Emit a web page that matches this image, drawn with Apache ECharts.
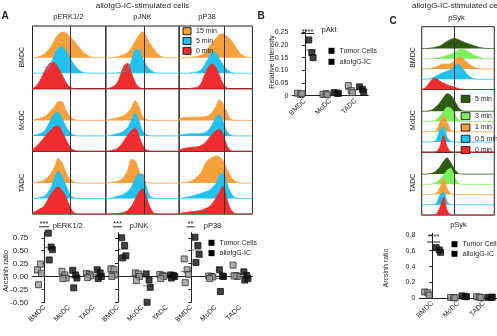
<!DOCTYPE html>
<html>
<head>
<meta charset="utf-8">
<script src="https://cdn.jsdelivr.net/npm/echarts@6/dist/echarts.min.js"></script>
<style>
  html, body { margin: 0; padding: 0; background: #fff; }
  #chart { width: 497px; height: 336px; }
</style>
</head>
<body>
<div id="chart"></div>
<script>
// labels
var cellTypes = ['BMDC', 'MoDC', 'TADC'];
var markersA = ['pERK1/2', 'pJNK', 'pP38'];
var timesA = ['15 min', '5 min', '0 min'];
var timesC = ['5 min', '3 min', '1 min', '0.5 min', '0 min'];
// fluorescence bins (relative channel)
var bins = [0, 5, 10, 15, 20, 25, 30, 35, 40, 45, 50, 55, 60, 65, 70, 75, 80, 85, 90, 95, 100];
// gate line per marker (bin units)
var gateA = [52, 52, 61];
var gateC = 45;

// histograms, normalized to mode: [15 min, 5 min, 0 min]
var histBmdcErk = [
  [0, 0, 0.05, 0.12, 0.25, 0.42, 0.68, 0.88, 0.98, 0.97, 0.82, 0.7, 0.52, 0.35, 0.2, 0.09, 0.02, 0, 0, 0, 0],
  [0, 0, 0, 0.02, 0.15, 0.35, 0.72, 0.95, 1.02, 0.88, 0.65, 0.4, 0.22, 0.08, 0.02, 0, 0, 0, 0, 0, 0],
  [0, 0.1, 0.3, 0.58, 0.85, 1.0, 1.0, 0.8, 0.55, 0.28, 0.08, 0.01, 0, 0, 0, 0, 0, 0, 0, 0, 0]
];
var histBmdcJnk = [
  [0, 0, 0.01, 0.03, 0.07, 0.12, 0.2, 0.38, 0.62, 0.85, 1.0, 0.82, 0.55, 0.35, 0.18, 0.05, 0.01, 0, 0, 0, 0],
  [0, 0, 0, 0.01, 0.03, 0.06, 0.18, 0.48, 0.88, 0.9, 0.58, 0.32, 0.15, 0.04, 0.01, 0, 0, 0, 0, 0, 0],
  [0, 0.02, 0.08, 0.2, 0.52, 0.88, 0.98, 0.6, 0.25, 0.06, 0.01, 0, 0, 0, 0, 0, 0, 0, 0, 0, 0]
];
var histBmdcP38 = [
  [0, 0, 0, 0.01, 0.03, 0.05, 0.09, 0.18, 0.38, 0.58, 0.72, 0.88, 0.92, 0.82, 0.7, 0.5, 0.3, 0.12, 0.04, 0.01, 0],
  [0, 0, 0, 0.01, 0.03, 0.06, 0.13, 0.32, 0.58, 0.82, 0.78, 0.55, 0.32, 0.15, 0.05, 0.01, 0, 0, 0, 0, 0],
  [0, 0, 0, 0.01, 0.03, 0.06, 0.2, 0.55, 0.82, 0.95, 0.82, 0.52, 0.18, 0.03, 0, 0, 0, 0, 0, 0, 0]
];
var histModcErk = [
  [0.01, 0.04, 0.08, 0.12, 0.22, 0.37, 0.52, 0.72, 0.72, 0.42, 0.2, 0.06, 0.01, 0, 0, 0, 0, 0, 0, 0, 0],
  [0.01, 0.04, 0.08, 0.15, 0.35, 0.62, 0.85, 0.92, 0.68, 0.4, 0.18, 0.04, 0.01, 0, 0, 0, 0, 0, 0, 0, 0],
  [0.08, 0.18, 0.33, 0.5, 0.68, 0.82, 0.95, 0.98, 0.78, 0.5, 0.22, 0.06, 0.01, 0, 0, 0, 0, 0, 0, 0, 0]
];
var histModcJnk = [
  [0.01, 0.03, 0.06, 0.09, 0.13, 0.19, 0.3, 0.5, 0.76, 0.55, 0.15, 0.03, 0, 0, 0, 0, 0, 0, 0, 0, 0],
  [0, 0.01, 0.04, 0.08, 0.12, 0.2, 0.32, 0.6, 0.88, 0.6, 0.2, 0.04, 0.01, 0, 0, 0, 0, 0, 0, 0, 0],
  [0, 0.02, 0.05, 0.1, 0.22, 0.42, 0.62, 0.8, 0.9, 0.6, 0.25, 0.06, 0.01, 0, 0, 0, 0, 0, 0, 0, 0]
];
var histModcP38 = [
  [0.06, 0.1, 0.12, 0.12, 0.12, 0.12, 0.13, 0.14, 0.18, 0.3, 0.52, 0.78, 0.65, 0.32, 0.05, 0.01, 0, 0, 0, 0, 0],
  [0.02, 0.05, 0.07, 0.08, 0.08, 0.08, 0.09, 0.12, 0.22, 0.42, 0.7, 0.82, 0.55, 0.18, 0.03, 0, 0, 0, 0, 0, 0],
  [0.05, 0.1, 0.13, 0.15, 0.16, 0.18, 0.22, 0.32, 0.48, 0.65, 0.78, 0.85, 0.65, 0.25, 0.04, 0, 0, 0, 0, 0, 0]
];
var histTadcErk = [
  [0, 0.02, 0.05, 0.09, 0.2, 0.36, 0.6, 0.95, 0.8, 0.45, 0.18, 0.06, 0.01, 0, 0, 0, 0, 0, 0, 0, 0],
  [0, 0.01, 0.04, 0.08, 0.2, 0.42, 0.78, 1.05, 0.85, 0.55, 0.22, 0.05, 0.01, 0, 0, 0, 0, 0, 0, 0, 0],
  [0.05, 0.12, 0.2, 0.28, 0.5, 0.76, 0.95, 1.05, 0.92, 0.7, 0.35, 0.1, 0.01, 0, 0, 0, 0, 0, 0, 0, 0]
];
var histTadcJnk = [
  [0, 0.01, 0.03, 0.06, 0.12, 0.25, 0.5, 0.92, 0.85, 0.5, 0.12, 0.03, 0, 0, 0, 0, 0, 0, 0, 0, 0],
  [0, 0.01, 0.04, 0.08, 0.12, 0.18, 0.27, 0.45, 0.75, 0.95, 0.95, 0.48, 0.1, 0.02, 0, 0, 0, 0, 0, 0, 0],
  [0, 0, 0.01, 0.02, 0.04, 0.07, 0.14, 0.3, 0.56, 0.82, 0.98, 0.7, 0.28, 0.05, 0.01, 0, 0, 0, 0, 0, 0]
];
var histTadcP38 = [
  [0, 0.01, 0.03, 0.06, 0.13, 0.25, 0.4, 0.7, 0.9, 0.98, 1.04, 1.0, 0.86, 0.55, 0.28, 0.1, 0.03, 0, 0, 0, 0],
  [0, 0.02, 0.05, 0.08, 0.12, 0.16, 0.2, 0.25, 0.3, 0.42, 0.56, 0.88, 1.0, 0.6, 0.25, 0.06, 0.01, 0, 0, 0, 0],
  [0.02, 0.05, 0.07, 0.09, 0.1, 0.12, 0.15, 0.2, 0.26, 0.4, 0.6, 0.85, 1.08, 0.6, 0.2, 0.04, 0, 0, 0, 0, 0]
];
// pSyk: [5 min, 3 min, 1 min, 0.5 min, 0 min]
var histBmdcSyk = [
  [0, 0, 0.01, 0.04, 0.09, 0.15, 0.3, 0.45, 0.57, 0.62, 0.56, 0.46, 0.36, 0.28, 0.2, 0.13, 0.07, 0.02, 0, 0, 0],
  [0, 0, 0, 0.02, 0.05, 0.08, 0.13, 0.2, 0.27, 0.38, 0.5, 0.62, 0.52, 0.4, 0.28, 0.17, 0.08, 0.02, 0, 0, 0],
  [0, 0, 0.02, 0.06, 0.14, 0.24, 0.31, 0.3, 0.34, 0.52, 0.7, 0.72, 0.5, 0.32, 0.17, 0.06, 0.01, 0, 0, 0, 0],
  [0, 0, 0.02, 0.08, 0.2, 0.32, 0.42, 0.5, 0.6, 0.78, 0.92, 0.72, 0.45, 0.2, 0.06, 0.01, 0, 0, 0, 0, 0],
  [0.02, 0.1, 0.38, 0.65, 0.68, 0.52, 0.4, 0.3, 0.22, 0.14, 0.07, 0.02, 0, 0, 0, 0, 0, 0, 0, 0, 0]
];
var histModcSyk = [
  [0, 0, 0.03, 0.1, 0.3, 0.54, 0.85, 1.1, 1.0, 0.68, 0.27, 0.05, 0, 0, 0, 0, 0, 0, 0, 0, 0],
  [0, 0, 0.01, 0.04, 0.12, 0.35, 0.62, 0.9, 0.85, 0.5, 0.15, 0.02, 0, 0, 0, 0, 0, 0, 0, 0, 0],
  [0, 0, 0, 0.02, 0.07, 0.58, 1.0, 0.6, 0.12, 0.02, 0, 0, 0, 0, 0, 0, 0, 0, 0, 0, 0],
  [0, 0, 0, 0.02, 0.12, 0.72, 0.95, 0.3, 0.05, 0, 0, 0, 0, 0, 0, 0, 0, 0, 0, 0, 0],
  [0, 0, 0, 0, 0.03, 0.35, 1.04, 0.35, 0.04, 0, 0, 0, 0, 0, 0, 0, 0, 0, 0, 0, 0]
];
var histTadcSyk = [
  [0, 0, 0.02, 0.07, 0.2, 0.45, 0.78, 1.02, 0.7, 0.3, 0.06, 0, 0, 0, 0, 0, 0, 0, 0, 0, 0],
  [0, 0, 0, 0.04, 0.12, 0.3, 0.56, 0.88, 1.0, 0.5, 0.08, 0.01, 0, 0, 0, 0, 0, 0, 0, 0, 0],
  [0, 0, 0, 0.02, 0.08, 0.4, 1.0, 0.38, 0.05, 0, 0, 0, 0, 0, 0, 0, 0, 0, 0, 0, 0],
  [0, 0, 0, 0.02, 0.1, 0.6, 0.78, 0.2, 0.02, 0, 0, 0, 0, 0, 0, 0, 0, 0, 0, 0, 0],
  [0, 0, 0, 0.01, 0.06, 0.45, 1.1, 0.3, 0.02, 0, 0, 0, 0, 0, 0, 0, 0, 0, 0, 0, 0]
];

// scatter values per cell type (BMDC, MoDC, TADC)
var erkTumor = [[0.13, 0.24, 0.06, -0.16], [0.10, 0.03, -0.03, -0.04], [0.06, 0.04, 0.01, -0.02]];
var erkAllo = [[0.84, 0.57, 0.52, 0.32], [0.12, 0.03, -0.03, -0.22], [0.13, 0.07, 0.0, -0.04]];
var jnkTumor = [[0.15, 0.14, 0.03, 0.0], [0.07, 0.05, 0.0, -0.08], [0.04, 0.02, 0.0, -0.04]];
var jnkAllo = [[0.75, 0.60, 0.40, 0.36], [0.05, -0.07, -0.21, -0.5], [0.03, 0.02, 0.0, -0.03]];
var p38Tumor = [[0.34, 0.13, 0.04, -0.12], [0.01, 0.0, -0.01, -0.04], [0.22, 0.02, 0.0, 0.01]];
var p38Allo = [[0.76, 0.60, 0.43, 0.27], [0.13, 0.01, 0.0, -0.29], [0.09, 0.02, -0.04, -0.07]];
var aktTumor = [[0.010, 0.005, 0.008], [0.005, 0.008, 0.004], [0.040, 0.020, 0.012]];
var aktAllo = [[0.22, 0.17, 0.15], [0.012, 0.010, 0.009], [0.035, 0.025, 0.015]];
var sykTumor = [[0.08, 0.07, 0.04], [0.012, 0.010, 0.006], [0.02, 0.015, 0.01]];
var sykAllo = [[0.64, 0.61, 0.58], [0.03, 0.025, 0.02], [0.012, 0.01, 0.015]];
// horizontal spread of replicate points (category units)
var spread = [-0.07, 0.05, 0.1, -0.03];

var colorsA = ['#f7a03c', '#22c1ef', '#ee2d2f'];
var colorsC = ['#2f5a12', '#7cf05a', '#f7a03c', '#22c1ef', '#ee2d2f'];
var font = '"Liberation Sans", Arial, sans-serif';

var grids = [], xAxes = [], yAxes = [], series = [];

function addGrid(g) {
  grids.push(g);
  return grids.length - 1;
}

function histCell(box, curves, colors, names, unit, offsets, gate) {
  var gi = addGrid({left: box.left, top: box.top, width: box.width, height: box.height,
    show: true, borderColor: '#222', borderWidth: 1, backgroundColor: 'transparent', z: 3});
  xAxes.push({gridIndex: gi, type: 'value', min: 0, max: 100, show: false});
  yAxes.push({gridIndex: gi, type: 'value', min: 0, max: 1, show: false});
  series.push({type: 'line', data: [], xAxisIndex: xAxes.length - 1, yAxisIndex: yAxes.length - 1, z: 10, silent: true,
    markLine: {symbol: 'none', silent: true, label: {show: false}, animation: false,
      lineStyle: {color: '#333', width: 1, type: 'solid'}, data: [{xAxis: gate}]}});
  curves.forEach(function (vals, k) {
    var base = box.top + box.height - offsets[k];
    var ci = addGrid({left: box.left, top: base - unit, width: box.width, height: unit});
    xAxes.push({gridIndex: ci, type: 'category', data: bins, boundaryGap: false, show: false});
    yAxes.push({gridIndex: ci, type: 'value', min: 0, max: 1, show: false});
    series.push({type: 'line', name: names[k], data: vals, xAxisIndex: xAxes.length - 1, yAxisIndex: yAxes.length - 1,
      symbol: 'none', smooth: 0.3, clip: false, silent: true,
      lineStyle: {color: colors[k], width: 0.8}, itemStyle: {color: colors[k]},
      areaStyle: {color: colors[k], opacity: 1}});
  });
}

// panel A histograms
var histA = [[histBmdcErk, histBmdcJnk, histBmdcP38], [histModcErk, histModcJnk, histModcP38], [histTadcErk, histTadcJnk, histTadcP38]];
var namesA = timesA.map(function (t) { return 'A ' + t; });
histA.forEach(function (row, r) {
  row.forEach(function (cell, c) {
    histCell({left: 32.5 + c * 73.3, top: 26 + r * 62.7, width: 73.3, height: 62.7},
      cell, colorsA, namesA, 26, [31, 15.5, 0], gateA[c]);
  });
});

// panel C histograms
var histC = [histBmdcSyk, histModcSyk, histTadcSyk];
var namesC = timesC.map(function (t) { return 'C ' + t; });
histC.forEach(function (cell, r) {
  histCell({left: 421.7, top: 26.7 + r * 62.8, width: 72.6, height: 62.8},
    cell, colorsC, namesC, 16, [41, 30.75, 20.5, 10.25, 0], gateC);
});

function mean(a) {
  return a.reduce(function (s, v) { return s + v; }, 0) / a.length;
}

function scatterPanel(box, min, max, ticks, fmt, showLabels, labelSize, tumor, allo) {
  var gi = addGrid(box);
  xAxes.push({gridIndex: gi, type: 'category', data: cellTypes,
    axisLine: {lineStyle: {color: '#222', width: 1}}, axisTick: {show: false},
    axisLabel: {rotate: 45, fontSize: 7, color: '#222', margin: 4, interval: 0, fontFamily: font}});
  xAxes.push({gridIndex: gi, type: 'value', min: -0.5, max: 2.5, show: false});
  var xi = xAxes.length - 1;
  yAxes.push({gridIndex: gi, type: 'value', min: min, max: max,
    axisLine: {show: true, lineStyle: {color: '#222', width: 1}},
    axisTick: {show: true, length: 3, customValues: ticks, lineStyle: {color: '#222'}},
    axisLabel: {show: showLabels, customValues: ticks, formatter: fmt, fontSize: labelSize, color: '#222', margin: 4, fontFamily: font},
    splitLine: {show: false}});
  var yi = yAxes.length - 1;
  [[tumor, -0.22, 'Tumor Cells', {color: '#9a9a9a', borderColor: '#333', borderWidth: 1}],
   [allo, 0.22, 'alloIgG-IC', {color: '#111', borderColor: '#111', borderWidth: 1}]].forEach(function (g) {
    var pts = [], means = [];
    g[0].forEach(function (vals, ci) {
      vals.forEach(function (v, i) { pts.push([ci + g[1] + spread[i], v]); });
      means.push([ci + g[1], mean(vals)]);
    });
    series.push({type: 'scatter', name: 'mean', data: means, xAxisIndex: xi, yAxisIndex: yi, z: 2, silent: true,
      symbol: 'rect', symbolSize: [10, 1], itemStyle: {color: '#555'}, clip: false});
    series.push({type: 'scatter', name: g[2], data: pts, xAxisIndex: xi, yAxisIndex: yi, z: 3, silent: true,
      symbol: 'rect', symbolSize: 6, itemStyle: g[3], clip: false});
  });
}

var ticksA = [-0.5, -0.25, 0, 0.25, 0.5, 0.75];
var fmtA = function (v) { return v.toFixed(2); };
scatterPanel({left: 32.3, top: 232.6, width: 73.5, height: 69.7}, -0.5, 0.85, ticksA, fmtA, true, 8, erkTumor, erkAllo);
scatterPanel({left: 105.8, top: 232.6, width: 73.3, height: 69.7}, -0.5, 0.85, ticksA, fmtA, false, 8, jnkTumor, jnkAllo);
scatterPanel({left: 179.1, top: 232.6, width: 73.3, height: 69.7}, -0.5, 0.85, ticksA, fmtA, false, 8, p38Tumor, p38Allo);
scatterPanel({left: 292.3, top: 29.8, width: 76, height: 65.9}, 0, 0.26, [0, 0.05, 0.1, 0.15, 0.2, 0.25],
  function (v) { return v === 0 ? '0' : v.toFixed(2); }, true, 7, aktTumor, aktAllo);
scatterPanel({left: 419.3, top: 233.3, width: 78, height: 65}, 0, 0.82, [0, 0.2, 0.4, 0.6, 0.8],
  function (v) { return v === 0 ? '0' : v.toFixed(1); }, true, 7, sykTumor, sykAllo);

function legendBox(names, left, top, w, h, gap, strip) {
  return {data: names, left: left, top: top, orient: 'vertical', icon: 'rect', itemWidth: w, itemHeight: h,
    itemGap: gap, padding: 0, selectedMode: false,
    formatter: strip ? function (n) { return n.slice(2); } : '{name}',
    itemStyle: strip ? {borderColor: '#222', borderWidth: 1} : undefined,
    textStyle: {fontSize: 7, color: '#222', fontFamily: font}};
}

function txt(x, y, s, opt) {
  opt = opt || {};
  return {type: 'text', x: x, y: y, rotation: opt.rot || 0, silent: true,
    style: {text: s, font: (opt.bold ? 'bold ' : '') + (opt.size || 7.5) + 'px ' + font,
      fill: '#222', align: opt.align || 'center', verticalAlign: 'middle'}};
}

function bar(x1, x2, y) {
  return {type: 'line', silent: true, shape: {x1: x1, y1: y, x2: x2, y2: y}, style: {stroke: '#222', lineWidth: 1}};
}

var up = Math.PI / 2;
var row = {rot: up, size: 7};
var graphics = [
  txt(142.5, 5.5, 'alloIgG-IC-stimulated cells', {size: 8}),
  txt(5, 16.5, 'A', {bold: true, size: 10}),
  txt(68.3, 17, markersA[0]), txt(142.5, 17, markersA[1]), txt(207, 17, markersA[2]),
  txt(22.5, 57.3, cellTypes[0], row), txt(22.5, 120, cellTypes[1], row), txt(22.5, 183, cellTypes[2], row),
  txt(67.7, 225.5, markersA[0]), txt(139, 225.5, markersA[1]), txt(212.5, 225.5, markersA[2]),
  txt(44, 224, '***'), bar(39, 49, 226.8),
  txt(117.5, 224, '***'), bar(113, 122, 226.8),
  txt(190.5, 224, '**'), bar(186.5, 194.5, 226.8),
  txt(5.5, 271, 'Arcsinh ratio', {rot: up}),
  txt(261, 16, 'B', {bold: true, size: 10}),
  txt(329, 29.5, 'pAkt'),
  txt(307.5, 31.5, '****'), bar(301, 314, 33.5),
  txt(271.7, 62, 'Relative Intensity', {rot: up, size: 7}),
  txt(412, 5.5, 'alloIgG-IC-stimulated cells', {align: 'left', size: 8}),
  txt(393, 21, 'C', {bold: true, size: 10}),
  txt(456.5, 17.5, 'pSyk'),
  txt(413.5, 57.5, cellTypes[0], row), txt(413.5, 120, cellTypes[1], row), txt(413.5, 183, cellTypes[2], row),
  txt(458.5, 225, 'pSyk'),
  txt(433.5, 237, '****'), bar(427, 440, 242),
  txt(386.5, 268, 'Arcsinh ratio', {rot: up, size: 7})
];

var chart = echarts.init(document.getElementById('chart'));
chart.setOption({
  backgroundColor: '#fff',
  animation: false,
  textStyle: {fontFamily: font},
  grid: grids,
  xAxis: xAxes,
  yAxis: yAxes,
  legend: [
    legendBox(namesA, 182.5, 27.2, 8, 7, 1.8, true),
    legendBox([namesC[0]], 460.7, 94.8, 8.7, 7, 3.3, true),
    legendBox(namesC.slice(1), 460.7, 112.2, 8.7, 7, 3.3, true),
    legendBox(['Tumor Cells', 'alloIgG-IC'], 208.5, 239.3, 6, 6, 3.3, false),
    legendBox(['Tumor Cells', 'alloIgG-IC'], 328.5, 47.3, 6, 6, 4, false),
    legendBox(['Tumor Cells', 'alloIgG-IC'], 451.5, 240.7, 6, 6, 2.6, false)
  ],
  graphic: graphics,
  series: series
});
</script>
</body>
</html>
